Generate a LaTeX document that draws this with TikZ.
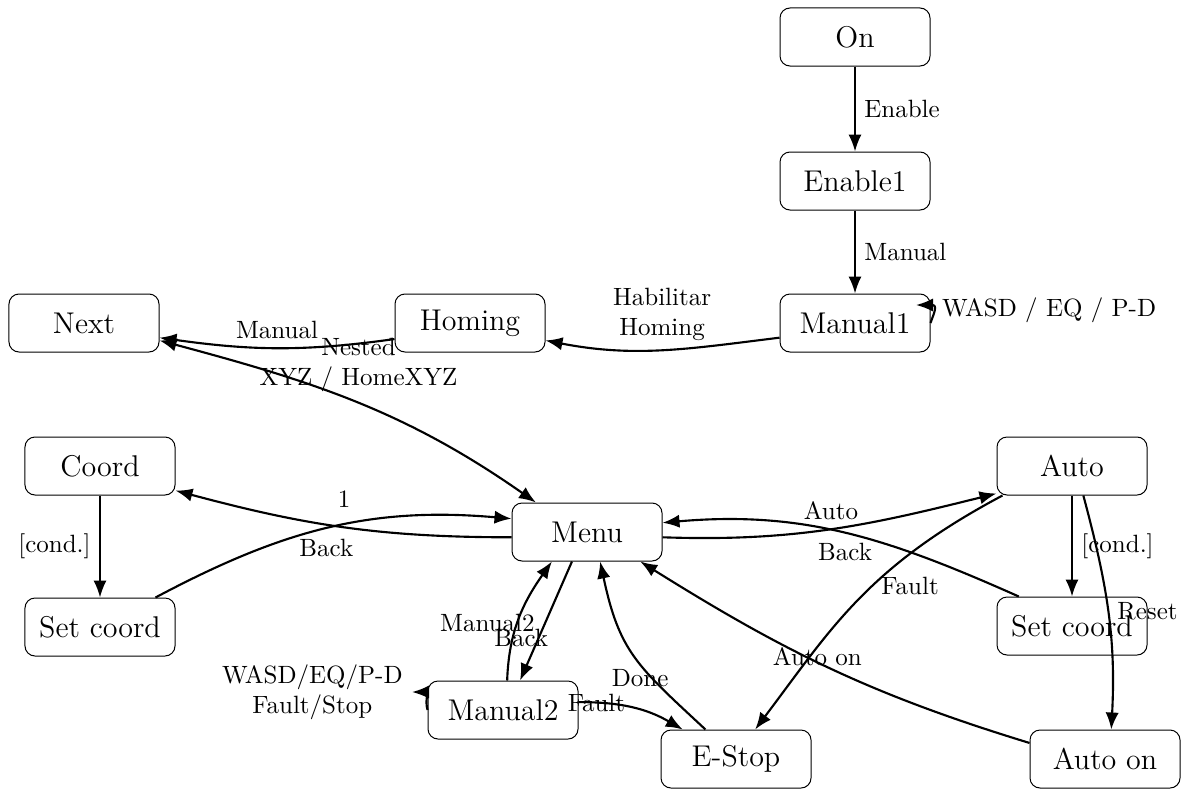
\documentclass[tikz,border=0pt]{standalone}
\usetikzlibrary{arrows.meta}
\begin{document}
\begin{tikzpicture}[x=0.4pt,y=0.4pt,
  state/.style={draw, rounded corners=4pt, minimum width=60pt, minimum height=23.2pt, font=\large, line width=0.4pt, inner sep=0pt},
  arr/.style={-{Latex[length=6.8pt,width=5.3pt]}, line width=0.85pt},
  darr/.style={{Latex[length=6.8pt,width=5.3pt]}-{Latex[length=6.8pt,width=5.3pt]}, line width=0.85pt},
  lbl/.style={font=\normalsize}]
\useasboundingbox (0,0) rectangle (1185,789);

\node[state] (On) at (855,752) {On};
\node[state] (Enable1) at (855,608) {Enable1};
\node[state] (Manual1) at (855,466) {Manual1};
\node[state] (Homing) at (470,466) {Homing};
\node[state] (Next) at (84,466) {Next};
\node[state] (Coord) at (100,323) {Coord};
\node[state] (SetL) at (100,162) {Set coord};
\node[state] (Menu) at (587,257) {Menu};
\node[state] (Auto) at (1072,323) {Auto};
\node[state] (SetR) at (1072,163) {Set coord};
\node[state] (Manual2) at (503,79) {Manual2};
\node[state] (EStop) at (736,30) {E-Stop};
\node[state] (AutoOn) at (1105,30) {Auto on};

\coordinate (m1loop) at (916,484);
\coordinate (m2loop) at (412,97);

\draw[arr] (On) -- node[right,lbl] {Enable} (Enable1);
\draw[arr] (Enable1) -- node[right,lbl] {Manual} (Manual1);
\draw[arr] (Manual1.east) .. controls (934,476) and (938,484) .. node[pos=0.5,right,lbl] {WASD / EQ / P-D} (m1loop);
\draw[arr] (Manual1.191) to[out=187,in=-11] node[above,lbl,align=center] {Habilitar\\Homing} (Homing.-13);
\draw[arr] (Homing.192) to[out=188,in=-8] node[above,lbl] {Manual} (Next.-11);
\draw[darr] (Next.-13) to[out=-15,in=145] node[pos=0.4,above,xshift=15pt,yshift=-5pt,lbl,align=center] {Nested\\XYZ / HomeXYZ} (Menu.150);

\draw[arr] (Menu.184) to[out=180,in=-15] node[pos=0.55,below,yshift=-2pt,lbl] {Back} (Coord.-18);
\draw[arr] (SetL.28) to[out=28,in=175] node[pos=0.55,above,yshift=3pt,lbl] {1} (Menu.170);
\draw[arr] (Coord) -- node[left,lbl] {[cond.]} (SetL);

\draw[arr] (Menu.-4) to[out=-2,in=194] node[above,lbl] {Auto} (Auto.200);
\draw[arr] (SetR.151) to[out=156,in=5] node[below,lbl] {Back} (Menu.7);
\draw[arr] (Auto) -- node[right,lbl] {[cond.]} (SetR);
\draw[arr] (Auto.-69) to[out=-75,in=87] node[right,lbl] {Reset} (AutoOn.78);
\draw[arr] (Auto.203) to[out=208,in=53,out looseness=1.15,in looseness=0.95] node[pos=0.43,right,lbl] {Fault} (EStop.57);
\draw[arr] (AutoOn.168) to[out=163,in=-32] node[pos=0.53,yshift=2pt,lbl] {Auto on} (Menu.-29);

\draw[arr] (EStop.136) to[out=137,in=-78,looseness=1.2] node[pos=0.33,xshift=-5pt,lbl] {Done} (Menu.-66);
\draw[arr] (Manual2.6) to[out=0,in=150] node[pos=0.15,lbl] {Fault} (EStop.151);
\draw[arr] (Menu.243) -- node[pos=0.64,xshift=-7pt,lbl] {Back} (Manual2.60);
\draw[arr] (Manual2.82) to[out=88,in=235] node[pos=0.45,xshift=-12pt,lbl] {Manual2} (Menu.220);
\draw[arr] (Manual2.west) .. controls (425,88) and (428,97) .. node[at end,left,lbl,align=center] {WASD/EQ/P-D\\Fault/Stop} (m2loop);
\end{tikzpicture}
\end{document}
